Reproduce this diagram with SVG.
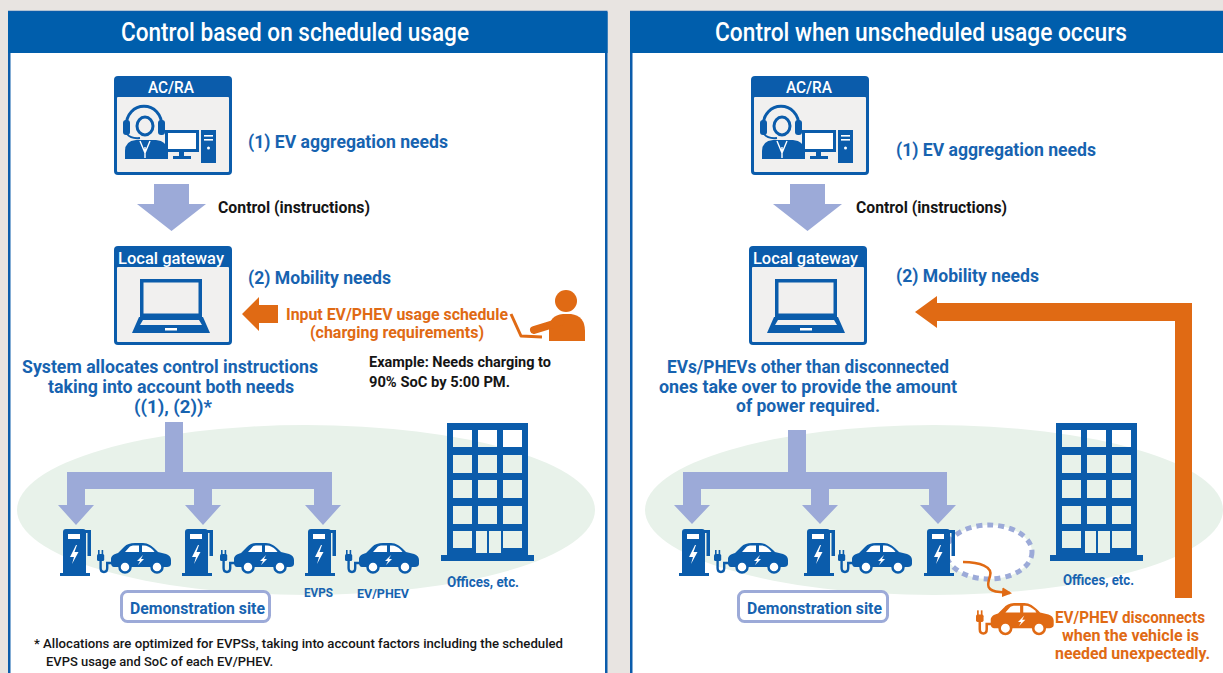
<svg xmlns="http://www.w3.org/2000/svg" xmlns:xlink="http://www.w3.org/1999/xlink" width="1223" height="673" viewBox="0 0 1223 673">
  <style>
    text { font-family: Roboto, "Liberation Sans", sans-serif; font-weight: 700; }
    .hd { fill: #ffffff; font-size: 25px; font-weight: 500; }
    .tag { fill: #ffffff; font-size: 16px; font-weight: 500; }
    .bl { fill: #1763b0; font-size: 18px; }
    .bls { fill: #1763b0; font-size: 13px; }
    .bk { fill: #151515; font-size: 16px; }
    .bks { fill: #151515; font-size: 14px; }
    .ft { fill: #151515; font-size: 13.5px; font-weight: 500; }
    .or { fill: #e06a14; font-size: 17px; }
    .ors { fill: #e06a14; font-size: 16px; }
    .panel { fill: #ffffff; stroke: #0b5cab; stroke-width: 2.5; }
    .head { fill: #005eac; }
    .site { fill: #e8f2ea; }
    .flow { fill: #9caad8; }
    .push { fill: #e06a14; }
    .demo { fill: #ffffff; stroke: #9caad8; stroke-width: 3; }
  </style>
  <defs>
    <!-- control-room operator box -->
    <g id="acra">
      <rect x="0" y="0" width="118" height="99" rx="4" fill="#0b5cab"/>
      <rect x="3" y="21" width="112" height="75" rx="1" fill="#f1f0ef"/>
      <path d="M12,52 C11,23 49,23 48,52" fill="none" stroke="#0b5cab" stroke-width="3"/>
      <rect x="9" y="44" width="7" height="15" rx="3" fill="#0b5cab"/>
      <rect x="44" y="44" width="7" height="15" rx="3" fill="#0b5cab"/>
      <path d="M11,83 L11,75 Q11,65 22,64 L42,64 Q53,65 54,75 L54,83 Z" fill="#0b5cab"/>
      <ellipse cx="31" cy="50" rx="8" ry="9" fill="#f1f0ef" stroke="#0b5cab" stroke-width="3"/>
      <path d="M13,58 Q17,63 26,62" fill="none" stroke="#0b5cab" stroke-width="2"/>
      <path d="M26,65 L31,77 L36,65 M31,71 L31,82" fill="none" stroke="#ffffff" stroke-width="1.4"/>
      <rect x="51" y="54" width="34" height="22" fill="#0b5cab"/>
      <rect x="54" y="57" width="28" height="16" fill="#ffffff"/>
      <rect x="65" y="76" width="5" height="5" fill="#0b5cab"/>
      <rect x="59" y="80" width="18" height="3" fill="#0b5cab"/>
      <rect x="87" y="54" width="15" height="33" fill="#0b5cab"/>
      <rect x="90" y="59" width="9" height="1.6" fill="#ffffff"/>
      <rect x="90" y="63" width="9" height="1.6" fill="#ffffff"/>
      <circle cx="94.5" cy="72" r="1.5" fill="#ffffff"/>
    </g>
    <!-- local gateway box with laptop -->
    <g id="gateway">
      <rect x="0" y="0" width="118" height="99" rx="4" fill="#0b5cab"/>
      <rect x="3" y="21" width="112" height="75" rx="1" fill="#f1f0ef"/>
      <rect x="27.75" y="34.75" width="58.5" height="34.5" fill="#f1f0ef" stroke="#0b5cab" stroke-width="3.5"/>
      <polygon points="25,71 89,71 96,87 18,87" fill="#0b5cab"/>
      <polygon points="29,74 85,74 88,79 26,79" fill="#f1f0ef"/>
      <rect x="51" y="82" width="12" height="2.5" fill="#ffffff"/>
    </g>
    <!-- charging station (EVPS) -->
    <g id="evps" fill="#0b5cab">
      <path d="M0,44 L0,3 Q0,0 3,0 L20,0 Q23,0 23,3 L23,44 Z"/>
      <rect x="5" y="5" width="12" height="5" fill="#ffffff"/>
      <polygon points="13,16 7,28 11,28 9,35 15.5,23 11.5,23 14,16" fill="#ffffff"/>
      <rect x="24.5" y="1" width="3.5" height="26"/>
      <rect x="22" y="1" width="4" height="3"/>
      <rect x="-3" y="44" width="30" height="3"/>
    </g>
    <!-- plug and electric car, drawn in currentColor -->
    <g id="ev">
      <rect x="1" y="7" width="1.6" height="5" fill="currentColor"/>
      <rect x="4.6" y="7" width="1.6" height="5" fill="currentColor"/>
      <rect x="0" y="11" width="7.2" height="7" rx="1.5" fill="currentColor"/>
      <path d="M3.6,18 L3.6,25 Q3.6,29 7,29 Q10.2,29 10.2,25 L10.2,20 L16,20" fill="none" stroke="currentColor" stroke-width="2.4"/>
      <path d="M17,24 C15,24 14,22 14,20 L14,16 C14,13 17,11 21,10 L27,4 C30,1 33,0 38,0 L46,0 C51,0 55,3 59,7 L61,9 L69,11 C72,12 74,14 74,17 L74,21 C74,23 72,24 70,24 Z" fill="currentColor"/>
      <path d="M28,9 L32,4.5 C33,3 35,2.5 38,2.5 L42,2.5 L42,9 Z" fill="#ffffff"/>
      <path d="M45,2.5 L47,2.5 C50,2.5 53,4 56,7 L57.5,9 L45,9 Z" fill="#ffffff"/>
      <circle cx="28" cy="24" r="5.5" fill="#ffffff" stroke="currentColor" stroke-width="2.5"/>
      <circle cx="60" cy="24" r="5.5" fill="#ffffff" stroke="currentColor" stroke-width="2.5"/>
      <polygon points="46,12 40,18 43,18 41,22 47,16 44,16" fill="#ffffff"/>
    </g>
    <!-- office building; windows are cut out so the ground shows through -->
    <g id="office" fill="#0b5cab">
      <path fill-rule="evenodd" d="M0,0 H81 V133 H0 Z M6,7 H25 V24 H6 Z M31,7 H50 V24 H31 Z M56,7 H75 V24 H56 Z M6,32 H25 V50 H6 Z M31,32 H50 V50 H31 Z M56,32 H75 V50 H56 Z M6,57 H25 V75 H6 Z M31,57 H50 V75 H31 Z M56,57 H75 V75 H56 Z M6,83 H25 V101 H6 Z M31,83 H50 V101 H31 Z M56,83 H75 V101 H56 Z M6,108 H25 V125 H6 Z M56,108 H75 V125 H56 Z M29,108 H40 V130 H29 Z M42,108 H54 V130 H42 Z"/>
      <rect x="-6" y="132" width="93" height="6"/>
    </g>
    <marker id="tipOrange" viewBox="0 0 10 10" refX="8" refY="5" markerWidth="4" markerHeight="4" orient="auto" markerUnits="strokeWidth">
      <path d="M0,0 L10,5 L0,10 Z" fill="#e06a14"/>
    </marker>
  </defs>

  <!-- page background -->
  <rect x="0" y="0" width="1223" height="673" fill="#e8e4e1"/>

  <!-- panel frames -->
  <g id="panel-scheduled">
    <rect class="panel" x="9.25" y="12" width="597" height="690"/>
    <rect class="head" x="8" y="12" width="599.5" height="41"/>
    <text class="hd" x="121" y="41" textLength="348" lengthAdjust="spacingAndGlyphs">Control based on scheduled usage</text>
    <ellipse class="site" cx="306" cy="510" rx="289" ry="85"/>
  </g>
  <g id="panel-unscheduled">
    <rect class="panel" x="631.25" y="12" width="620" height="690"/>
    <rect class="head" x="630" y="12" width="600" height="41"/>
    <text class="hd" x="715" y="41" textLength="412" lengthAdjust="spacingAndGlyphs">Control when unscheduled usage occurs</text>
    <ellipse class="site" cx="934" cy="510" rx="289" ry="85"/>
    <ellipse id="vacated-spot" cx="989" cy="552" rx="43" ry="27" fill="#ffffff" stroke="#9caad8" stroke-width="5" stroke-dasharray="6 5"/>
  </g>

  <!-- connectors -->
  <g id="connectors">
    <polygon class="flow" points="154,184 189,184 189,204 206,204 171.5,231 137,204 154,204"/>
    <polygon class="flow" points="790,184 825,184 825,204 842,204 807.5,231 773,204 790,204"/>
    <polygon class="push" points="242,314 259,297 259,305 278,305 278,323 259,323 259,331"/>
    <path class="flow" d="M165,422 H183 V472 H332 V505 H341 L323,525 L305,505 H314 V489 H212 V505 H221 L203,525 L185,505 H194 V489 H85 V505 H94 L76,525 L58,505 H67 V472 H165 Z"/>
    <path class="flow" d="M788,430 H806 V472 H947 V505 H956 L938,524 L920,505 H929 V489 H829 V505 H838 L820,524 L802,505 H811 V489 H701 V505 H710 L692,524 L674,505 H683 V472 H788 Z"/>
    <polygon class="push" points="915,312 937,296 937,303 1192,303 1192,598 1175,598 1175,321 937,321 937,328"/>
    <path d="M963,562 C980,562 993,567 990,576 C987,585 986,591 1000,592 L1010,593" fill="none" stroke="#e06a14" stroke-width="2.5" marker-end="url(#tipOrange)"/>
  </g>

  <!-- left panel nodes -->
  <g id="acra-left">
    <use href="#acra" x="114" y="76"/>
    <text class="tag" x="148" y="93" textLength="46" lengthAdjust="spacingAndGlyphs">AC/RA</text>
  </g>
  <g id="gateway-left">
    <use href="#gateway" x="114" y="246"/>
    <text class="tag" x="118" y="264" textLength="106" lengthAdjust="spacingAndGlyphs">Local gateway</text>
  </g>
  <g id="labels-left">
    <text class="bl" x="248" y="148" textLength="200" lengthAdjust="spacingAndGlyphs">(1) EV aggregation needs</text>
    <text class="bk" x="218" y="213" textLength="152" lengthAdjust="spacingAndGlyphs">Control (instructions)</text>
    <text class="bl" x="248" y="284" textLength="143" lengthAdjust="spacingAndGlyphs">(2) Mobility needs</text>
    <text class="or" x="286" y="320" textLength="222" lengthAdjust="spacingAndGlyphs">Input EV/PHEV usage schedule</text>
    <text class="or" x="310" y="338" textLength="174" lengthAdjust="spacingAndGlyphs">(charging requirements)</text>
    <text class="bks" x="369" y="367" textLength="182" lengthAdjust="spacingAndGlyphs">Example: Needs charging to</text>
    <text class="bks" x="369" y="387" textLength="141" lengthAdjust="spacingAndGlyphs">90% SoC by 5:00 PM.</text>
    <text class="bl" x="22" y="373" textLength="296" lengthAdjust="spacingAndGlyphs">System allocates control instructions</text>
    <text class="bl" x="48" y="393" textLength="246" lengthAdjust="spacingAndGlyphs">taking into account both needs</text>
    <text class="bl" x="134" y="413" textLength="78" lengthAdjust="spacingAndGlyphs">((1), (2))*</text>
  </g>
  <g id="user-left" fill="#e06a14">
    <circle cx="566" cy="301" r="11"/>
    <path d="M549,341 L549,330 Q549,315 563,314 L571,314 Q585,316 585,331 L585,341 Z"/>
    <path d="M560,322 L534,330" stroke="#e06a14" stroke-width="8" stroke-linecap="round"/>
    <path d="M511,314 L521,336 L542,337" fill="none" stroke="#e06a14" stroke-width="3" stroke-linejoin="round"/>
  </g>
  <g id="site-left">
    <use href="#evps" x="63" y="529"/>
    <use href="#evps" x="185" y="529"/>
    <use href="#evps" x="308" y="529"/>
    <use href="#ev" x="97" y="543" style="color:#0b5cab"/>
    <use href="#ev" x="220" y="543" style="color:#0b5cab"/>
    <use href="#ev" x="345" y="543" style="color:#0b5cab"/>
    <text class="bls" x="304" y="597" textLength="29" lengthAdjust="spacingAndGlyphs">EVPS</text>
    <text class="bls" x="357" y="598" textLength="52" lengthAdjust="spacingAndGlyphs">EV/PHEV</text>
  </g>
  <g id="demo-left">
    <rect class="demo" x="121.5" y="591.5" width="148" height="30" rx="6"/>
    <text class="bl" x="130" y="614" style="font-size:17px" textLength="135" lengthAdjust="spacingAndGlyphs">Demonstration site</text>
  </g>
  <g id="office-left">
    <use href="#office" x="447" y="423"/>
    <text class="bls" x="447" y="587" style="font-size:14px" textLength="72" lengthAdjust="spacingAndGlyphs">Offices, etc.</text>
  </g>
  <g id="note-left">
    <text class="ft" x="34" y="648" textLength="529" lengthAdjust="spacingAndGlyphs">* Allocations are optimized for EVPSs, taking into account factors including the scheduled</text>
    <text class="ft" x="46" y="666" textLength="227" lengthAdjust="spacingAndGlyphs">EVPS usage and SoC of each EV/PHEV.</text>
  </g>

  <!-- right panel nodes -->
  <g id="acra-right">
    <use href="#acra" x="751" y="76"/>
    <text class="tag" x="786" y="93" textLength="46" lengthAdjust="spacingAndGlyphs">AC/RA</text>
  </g>
  <g id="gateway-right">
    <use href="#gateway" x="749" y="246"/>
    <text class="tag" x="753" y="264" textLength="105" lengthAdjust="spacingAndGlyphs">Local gateway</text>
  </g>
  <g id="labels-right">
    <text class="bl" x="896" y="156" textLength="200" lengthAdjust="spacingAndGlyphs">(1) EV aggregation needs</text>
    <text class="bk" x="856" y="213" textLength="151" lengthAdjust="spacingAndGlyphs">Control (instructions)</text>
    <text class="bl" x="896" y="282" textLength="143" lengthAdjust="spacingAndGlyphs">(2) Mobility needs</text>
    <text class="bl" x="667" y="373" textLength="282" lengthAdjust="spacingAndGlyphs">EVs/PHEVs other than disconnected</text>
    <text class="bl" x="659" y="393" textLength="298" lengthAdjust="spacingAndGlyphs">ones take over to provide the amount</text>
    <text class="bl" x="736" y="412" textLength="144" lengthAdjust="spacingAndGlyphs">of power required.</text>
  </g>
  <g id="site-right">
    <use href="#evps" x="682" y="529"/>
    <use href="#evps" x="807" y="529"/>
    <use href="#evps" x="927" y="529"/>
    <use href="#ev" x="714" y="543" style="color:#0b5cab"/>
    <use href="#ev" x="838" y="543" style="color:#0b5cab"/>
  </g>
  <g id="demo-right">
    <rect class="demo" x="738.5" y="591.5" width="149" height="30" rx="6"/>
    <text class="bl" x="747" y="614" style="font-size:17px" textLength="135" lengthAdjust="spacingAndGlyphs">Demonstration site</text>
  </g>
  <g id="office-right">
    <use href="#office" x="1056" y="423"/>
    <text class="bls" x="1063" y="585" style="font-size:14px" textLength="71" lengthAdjust="spacingAndGlyphs">Offices, etc.</text>
  </g>
  <g id="disconnected-ev">
    <use href="#ev" transform="translate(976,603) scale(1.05)" style="color:#e06a14"/>
    <text class="ors" x="1055" y="623" textLength="150" lengthAdjust="spacingAndGlyphs">EV/PHEV disconnects</text>
    <text class="ors" x="1062" y="641" textLength="137" lengthAdjust="spacingAndGlyphs">when the vehicle is</text>
    <text class="ors" x="1055" y="659" textLength="155" lengthAdjust="spacingAndGlyphs">needed unexpectedly.</text>
  </g>
</svg>
